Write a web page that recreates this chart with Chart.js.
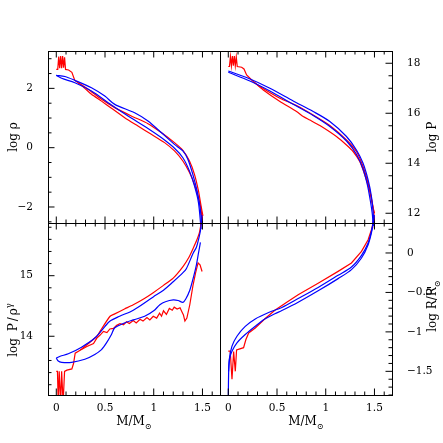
<!DOCTYPE html>
<html>
<head>
<meta charset="utf-8">
<script src="https://cdn.jsdelivr.net/npm/chart.js@4.4.0/dist/chart.umd.min.js"></script>
<style>
  html, body { margin: 0; padding: 0; background: #fff; }
  #wrap { position: relative; width: 443px; height: 443px; }
  #wrap canvas { position: absolute; left: 0; top: 0; }
</style>
</head>
<body>
<div id="wrap">
  <canvas id="rho" width="443" height="443"></canvas>
  <canvas id="pres" width="443" height="443"></canvas>
  <canvas id="ent" width="443" height="443"></canvas>
  <canvas id="rad" width="443" height="443"></canvas>
</div>
<script>
// axes
const massTicks = [0, 0.5, 1, 1.5];
const massRange = [-0.085, 1.68];
const rhoTicks = [-2, 0, 2];
const rhoRange = [-2.54, 3.26];
const presTicks = [12, 14, 16, 18];
const presRange = [11.61, 18.49];
const entTicks = [14, 15];
const entRange = [13.03, 15.87];
const radTicks = [-1.5, -1, -0.5, 0];
const radRange = [-1.8, 0.38];

// log rho vs M  ([M, value])
const rhoRedStart = [[0, 2.64], [0.015, 2.64], [0.025, 3.07], [0.035, 2.68], [0.045, 3.09], [0.055, 2.68], [0.065, 3.09],
  [0.075, 2.70], [0.085, 3.05], [0.095, 2.64], [0.126, 2.62], [0.16, 2.54], [0.19, 2.27], [0.225, 2.19]];
const rhoRed1 = [[0.225, 2.19], [0.327, 1.97], [0.464, 1.63], [0.600, 1.35], [0.770, 1.07], [0.941, 0.81], [1.077, 0.51],
  [1.213, 0.17], [1.299, -0.09], [1.367, -0.45], [1.418, -0.90], [1.459, -1.46], [1.486, -1.97], [1.505, -2.3]];
const rhoRed2 = [[0.225, 2.19], [0.293, 2.00], [0.361, 1.80], [0.464, 1.57], [0.566, 1.33], [0.702, 1.01], [0.838, 0.73],
  [0.975, 0.45], [1.111, 0.17], [1.213, -0.11], [1.299, -0.45], [1.367, -0.84], [1.418, -1.24], [1.459, -1.69],
  [1.486, -2.08], [1.496, -2.55]];
const rhoBlue1 = [[0, 2.44], [0.089, 2.40], [0.191, 2.27], [0.361, 2.02], [0.498, 1.74], [0.600, 1.46], [0.804, 1.18],
  [0.941, 0.90], [1.077, 0.51], [1.213, 0.11], [1.299, -0.11], [1.350, -0.39], [1.401, -0.90], [1.445, -1.46],
  [1.476, -2.02], [1.493, -2.6]];
const rhoBlue2 = [[0, 2.44], [0.055, 2.34], [0.191, 2.19], [0.361, 1.91], [0.566, 1.44], [0.736, 1.07], [0.941, 0.65],
  [1.077, 0.34], [1.213, -0.02], [1.299, -0.34], [1.367, -0.79], [1.418, -1.29], [1.459, -1.85], [1.486, -2.75]];

// log P vs M
const presRedStart = [[0, 17.87], [0.012, 17.87], [0.022, 18.27], [0.032, 17.9], [0.042, 18.29], [0.052, 17.9],
  [0.062, 18.29], [0.072, 17.9], [0.082, 18.25], [0.092, 17.87], [0.137, 17.84], [0.161, 17.77], [0.188, 17.53],
  [0.256, 17.27]];
const presRed1 = [[0.256, 17.27], [0.325, 17.07], [0.530, 16.6], [0.700, 16.31], [0.871, 15.93], [1.042, 15.51],
  [1.213, 14.93], [1.315, 14.47], [1.383, 13.87], [1.435, 13.2], [1.469, 12.6], [1.493, 12.07], [1.50, 11.4]];
const presRed2 = [[0.256, 17.27], [0.359, 16.93], [0.530, 16.47], [0.700, 16.07], [0.769, 15.87], [0.837, 15.73],
  [0.940, 15.51], [1.110, 15.07], [1.213, 14.73], [1.281, 14.47], [1.349, 14.07], [1.401, 13.53], [1.452, 12.87],
  [1.486, 12.2], [1.500, 12.0]];
const presBlue1 = [[0, 17.69], [0.188, 17.43], [0.427, 17.0], [0.666, 16.49], [0.871, 16.07], [1.042, 15.67],
  [1.213, 15.07], [1.315, 14.53], [1.383, 14.0], [1.435, 13.33], [1.469, 12.67], [1.486, 12.07], [1.493, 11.5]];
const presBlue2 = [[0, 17.64], [0.222, 17.29], [0.427, 16.89], [0.666, 16.36], [0.871, 15.91], [1.042, 15.47],
  [1.213, 14.89], [1.315, 14.36], [1.383, 13.77], [1.428, 13.13], [1.459, 12.47], [1.479, 11.93], [1.486, 11.5]];

// log P/rho^gamma vs M
const entRedStart = [[0, 13.42], [0.012, 13.42], [0.02, 12.9], [0.03, 13.42], [0.045, 12.9], [0.055, 13.42],
  [0.07, 12.9], [0.085, 13.42], [0.109, 13.44], [0.16, 13.46], [0.177, 13.55], [0.194, 13.72], [0.245, 13.77]];
const entRed1 = [[0.245, 13.77], [0.314, 13.86], [0.416, 14.0], [0.464, 14.12], [0.552, 14.33], [0.60, 14.37],
  [0.70, 14.45], [0.79, 14.52], [0.90, 14.62], [0.995, 14.72], [1.1, 14.84], [1.2, 14.96], [1.30, 15.15],
  [1.36, 15.30], [1.404, 15.45], [1.44, 15.58], [1.47, 15.72], [1.50, 16.0]];
const entRed2 = [[0.245, 13.77], [0.314, 13.83], [0.382, 13.88], [0.416, 13.97], [0.45, 14.02], [0.484, 14.08],
  [0.52, 14.06], [0.55, 14.12], [0.586, 14.13], [0.62, 14.18], [0.654, 14.21], [0.69, 14.19], [0.72, 14.24],
  [0.75, 14.21], [0.79, 14.26], [0.82, 14.22], [0.86, 14.28], [0.89, 14.25], [0.93, 14.31], [0.96, 14.27],
  [0.995, 14.33], [1.03, 14.30], [1.06, 14.38], [1.08, 14.33], [1.10, 14.42], [1.13, 14.36], [1.16, 14.46],
  [1.19, 14.43], [1.21, 14.48], [1.24, 14.45], [1.27, 14.47], [1.29, 14.40], [1.305, 14.35], [1.32, 14.25],
  [1.34, 14.30], [1.37, 14.52], [1.404, 14.85], [1.43, 15.05], [1.455, 15.21], [1.475, 15.18], [1.496, 15.07]];
const entBlue1 = [[0, 13.64], [0.04, 13.67], [0.123, 13.71], [0.259, 13.82], [0.395, 13.97], [0.498, 14.16],
  [0.552, 14.25], [0.65, 14.33], [0.79, 14.43], [0.995, 14.65], [1.1, 14.76], [1.2, 14.90], [1.30, 15.05],
  [1.336, 15.12], [1.404, 15.37], [1.438, 15.47], [1.46, 15.60], [1.48, 15.75], [1.495, 16.0]];
const entBlue2 = [[0, 13.64], [0.02, 13.59], [0.055, 13.57], [0.157, 13.57], [0.293, 13.62], [0.395, 13.70],
  [0.464, 13.78], [0.515, 13.89], [0.566, 14.03], [0.6, 14.14], [0.7, 14.22], [0.79, 14.27], [0.907, 14.33],
  [1.0, 14.42], [1.063, 14.52], [1.12, 14.57], [1.2, 14.60], [1.25, 14.59], [1.30, 14.56], [1.33, 14.62],
  [1.37, 14.76], [1.41, 14.99], [1.438, 15.18], [1.46, 15.38], [1.479, 15.55]];

// log R/Rsun vs M
const radRed = [[0, -1.245], [0.02, -1.245], [0.038, -1.60], [0.055, -1.25], [0.072, -1.50], [0.085, -1.23],
  [0.157, -1.20], [0.18, -1.10], [0.209, -1.013], [0.277, -0.95], [0.379, -0.83], [0.478, -0.725], [0.60, -0.625],
  [0.717, -0.528], [0.922, -0.384], [1.127, -0.233], [1.264, -0.127], [1.367, 0.02], [1.435, 0.168], [1.47, 0.30],
  [1.49, 0.40], [1.50, 0.47]];
const radBlue1 = [[0, -1.9], [0.003, -1.56], [0.01, -1.35], [0.038, -1.18], [0.089, -1.055], [0.174, -0.93],
  [0.277, -0.836], [0.414, -0.755], [0.55, -0.69], [0.717, -0.578], [0.922, -0.437], [1.127, -0.283],
  [1.264, -0.178], [1.367, -0.03], [1.435, 0.126], [1.47, 0.28], [1.49, 0.42], [1.495, 0.49]];
const radBlue2 = [[0.003, -1.50], [0.015, -1.33], [0.038, -1.245], [0.089, -1.139], [0.174, -1.034], [0.277, -0.929],
  [0.379, -0.835], [0.478, -0.77], [0.55, -0.73], [0.717, -0.625], [0.922, -0.48], [1.127, -0.325], [1.264, -0.211],
  [1.367, -0.064], [1.435, 0.105], [1.47, 0.26], [1.49, 0.40], [1.497, 0.49]];

const RED = '#ff0000';
const BLUE = '#0000ff';
const FONT = '"DejaVu Serif", "Liberation Serif", serif';

const fmt = v => (v < 0 ? '\u2212' + Math.abs(v) : String(v));

function drawRich(ctx, runs, cx, cy, size, rotate) {
  ctx.save();
  ctx.translate(cx, cy);
  if (rotate) ctx.rotate(-Math.PI / 2);
  ctx.fillStyle = '#000';
  ctx.textBaseline = 'alphabetic';
  ctx.textAlign = 'left';
  const parts = runs.map(r => {
    const s = r.sub || r.sup ? size * 0.7 : size;
    ctx.font = s + 'px ' + FONT;
    return Object.assign({}, r, { s: s, w: ctx.measureText(r.t).width + (r.pre || 0) });
  });
  const total = parts.reduce((a, p) => a + p.w, 0);
  let x = -total / 2;
  const base = size * 0.35;
  parts.forEach(p => {
    ctx.font = p.s + 'px ' + FONT;
    const dy = p.sub ? size * 0.3 : p.sup ? -size * 0.45 : 0;
    ctx.fillText(p.t, x + (p.pre || 0), base + dy);
    x += p.w;
  });
  ctx.restore();
}

function series(pts, color, tension) {
  return {
    data: pts.map(p => ({ x: p[0], y: p[1] })),
    borderColor: color,
    borderWidth: 1.2,
    pointRadius: 0,
    tension: tension,
    fill: false,
  };
}

function panel(id, cfg) {
  const [L, T, R, B] = cfg.box;
  const xAxisH = 26;
  const clip = cfg.clip;
  const datasets = cfg.datasets.map(d => Object.assign(d, { clip: clip }));

  const frame = {
    id: 'frame',
    afterDraw(chart) {
      const ctx = chart.ctx;
      const xs = chart.scales.x, ys = chart.scales.y;
      const a = chart.chartArea;
      ctx.save();
      ctx.strokeStyle = '#000';
      ctx.lineWidth = 1;
      const tick = (x1, y1, x2, y2) => { ctx.beginPath(); ctx.moveTo(x1, y1); ctx.lineTo(x2, y2); ctx.stroke(); };
      // mass ticks on top and bottom
      for (let i = 0; i <= 16; i++) {
        const v = i / 10;
        const len = i % 5 === 0 ? 6.5 : 3.5;
        const px = xs.getPixelForValue(v);
        tick(px, a.top, px, a.top + len);
        tick(px, a.bottom, px, a.bottom - len);
      }
      // y ticks on the outer side
      const outer = cfg.side === 'left' ? a.left : a.right;
      const dir = cfg.side === 'left' ? 1 : -1;
      const step = cfg.yMinor;
      for (let v = Math.ceil(cfg.yRange[0] / step) * step; v <= cfg.yRange[1] + 1e-9; v += step) {
        const major = cfg.yTicks.some(t => Math.abs(t - v) < 1e-6);
        const py = ys.getPixelForValue(v);
        tick(outer, py, outer + dir * (major ? 6.5 : 3.5), py);
      }
      // box
      ctx.lineWidth = 1;
      ctx.strokeRect(a.left + 0.5, a.top + 0.5, a.right - a.left, a.bottom - a.top);
      // titles
      drawRich(ctx, cfg.yTitle, cfg.yTitlePos[0], cfg.yTitlePos[1], 12, true);
      if (cfg.xLabels) {
        drawRich(ctx, [{ t: 'M/M' }, { t: '\u2299', sub: true }], (L + R) / 2, 421, 12, false);
      }
      ctx.restore();
    },
  };

  return new Chart(document.getElementById(id), {
    type: 'line',
    data: { datasets: datasets },
    options: {
      responsive: false,
      animation: false,
      events: [],
      layout: {
        padding: {
          left: cfg.side === 'left' ? 0 : L,
          right: cfg.side === 'right' ? 0 : 443 - R,
          top: T,
          bottom: cfg.xLabels ? 443 - B - xAxisH : 443 - B,
        },
      },
      plugins: { legend: { display: false }, tooltip: { enabled: false } },
      scales: {
        x: {
          type: 'linear',
          min: massRange[0],
          max: massRange[1],
          display: cfg.xLabels,
          grid: { display: false },
          border: { display: false },
          ticks: { color: '#000', padding: -1, font: { family: FONT, size: 10.5 }, callback: v => fmt(v) },
          afterBuildTicks: s => { s.ticks = massTicks.map(v => ({ value: v })); },
          afterFit: s => { if (cfg.xLabels) s.height = xAxisH; },
        },
        y: {
          type: 'linear',
          position: cfg.side,
          min: cfg.yRange[0],
          max: cfg.yRange[1],
          grid: { display: false },
          border: { display: false },
          ticks: { color: '#000', padding: 7, font: { family: FONT, size: 10.5 }, callback: v => fmt(v) },
          afterBuildTicks: s => { s.ticks = cfg.yTicks.map(v => ({ value: v })); },
          afterFit: s => { s.width = cfg.side === 'left' ? L : 443 - R; },
        },
      },
    },
    plugins: [frame],
  });
}

panel('rho', {
  box: [48, 51, 220, 223], side: 'left', xLabels: false,
  yRange: rhoRange, yTicks: rhoTicks, yMinor: 0.5,
  yTitle: [{ t: 'log \u03c1' }], yTitlePos: [13, 137],
  clip: { left: 0, top: 0, right: 0, bottom: 6 },
  datasets: [
    series(rhoBlue1, BLUE, 0.3), series(rhoBlue2, BLUE, 0.3),
    series(rhoRedStart, RED, 0), series(rhoRed1, RED, 0.2), series(rhoRed2, RED, 0.2),
  ],
});

panel('pres', {
  box: [220, 51, 392, 223], side: 'right', xLabels: false,
  yRange: presRange, yTicks: presTicks, yMinor: 0.5,
  yTitle: [{ t: 'log P' }], yTitlePos: [432, 137],
  clip: { left: 0, top: 0, right: 0, bottom: 6 },
  datasets: [
    series(presBlue1, BLUE, 0.3), series(presBlue2, BLUE, 0.3),
    series(presRedStart, RED, 0), series(presRed1, RED, 0.2), series(presRed2, RED, 0.2),
  ],
});

panel('ent', {
  box: [48, 223, 220, 395], side: 'left', xLabels: true,
  yRange: entRange, yTicks: entTicks, yMinor: 0.2,
  yTitle: [{ t: 'log ' }, { t: 'P', pre: 3 }, { t: '/', pre: 2 }, { t: '\u03c1', pre: 2 }, { t: '\u03b3', sup: true }],
  yTitlePos: [13, 330],
  clip: { left: 0, top: 8, right: 0, bottom: 0 },
  datasets: [
    series(entBlue1, BLUE, 0.3), series(entBlue2, BLUE, 0.3),
    series(entRedStart, RED, 0), series(entRed1, RED, 0.2), series(entRed2, RED, 0),
  ],
});

panel('rad', {
  box: [220, 223, 392, 395], side: 'right', xLabels: true,
  yRange: radRange, yTicks: radTicks, yMinor: 0.1,
  yTitle: [{ t: 'log R/R' }, { t: '\u2299', sub: true }], yTitlePos: [432, 306],
  clip: { left: 0, top: 8, right: 0, bottom: 0 },
  datasets: [
    series(radBlue1, BLUE, 0.3), series(radBlue2, BLUE, 0.3),
    series(radRed, RED, 0),
  ],
});
</script>
</body>
</html>
